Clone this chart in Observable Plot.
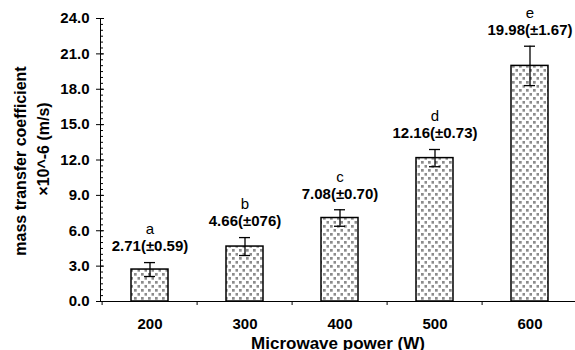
<!DOCTYPE html>
<html>
<head>
<meta charset="utf-8">
<script src="https://cdn.jsdelivr.net/npm/d3@7"></script>
<script src="https://cdn.jsdelivr.net/npm/@observablehq/plot@0.6"></script>
<style>
  body { margin: 0; background: #fff; }
  #chart svg { display: block; }
</style>
</head>
<body>
<div id="chart"></div>
<script>
// Microwave power levels (W) and measured mass transfer coefficients (×10^-6 m/s)
const powers = ["200", "300", "400", "500", "600"];
const means = [2.71, 4.66, 7.08, 12.16, 19.98];
const sds = [0.59, 0.76, 0.70, 0.73, 1.67];
const groups = ["a", "b", "c", "d", "e"];
const valueLabels = ["2.71(±0.59)", "4.66(±076)", "7.08(±0.70)", "12.16(±0.73)", "19.98(±1.67)"];
const yTicks = d3.range(0, 24.001, 3);
const yMinorTicks = d3.range(0, 24.001, 0.5);

const rows = powers.map((p, i) => ({
  power: p,
  mean: means[i],
  lo: means[i] - sds[i],
  hi: means[i] + sds[i],
  group: groups[i],
  label: valueLabels[i]
}));

// Dotted fill used by the bars
const dotPattern = () => {
  const defs = document.createElementNS("http://www.w3.org/2000/svg", "defs");
  defs.innerHTML =
    `<pattern id="dots" patternUnits="userSpaceOnUse" width="7" height="8">
       <rect width="7" height="8" fill="#fff"/>
       <rect x="1" y="1" width="2.7" height="2.7" fill="#8c8c8c"/>
       <rect x="4.5" y="5" width="2.7" height="2.7" fill="#8c8c8c"/>
     </pattern>`;
  return defs;
};

const bandStep = (579 - 100) / powers.length;
const font = "'Liberation Sans', Arial, sans-serif";

const chart = Plot.plot({
  width: 575,
  height: 350,
  marginLeft: 100,
  marginRight: 0,
  marginTop: 18,
  marginBottom: 49,
  style: { fontFamily: font, background: "#fff", color: "#000", overflow: "visible" },
  x: { domain: powers, range: [100, 579], padding: 0 },
  y: { domain: [0, 24] },
  marks: [
    dotPattern,
    Plot.barY(rows, {
      x: "power", y: "mean", fill: "url(#dots)", stroke: "#000", strokeWidth: 1.5,
      insetLeft: 29, insetRight: 29
    }),
    // error bars
    Plot.ruleX(rows, { x: "power", y1: "lo", y2: "hi", stroke: "#000", strokeWidth: 1.3 }),
    Plot.tickY(rows, { x: "power", y: "lo", stroke: "#000", strokeWidth: 1.3, insetLeft: 42, insetRight: 42 }),
    Plot.tickY(rows, { x: "power", y: "hi", stroke: "#000", strokeWidth: 1.3, insetLeft: 42, insetRight: 42 }),
    // value and significance-group labels
    Plot.text(rows, { x: "power", y: "hi", text: "label", dy: -16, fontSize: 15, fontWeight: "bold", fill: "#000" }),
    Plot.text(rows, { x: "power", y: "hi", text: "group", dy: -33, fontSize: 15, fill: "#000" }),
    // y axis: labels, major ticks across the line, minor ticks inside
    Plot.axisY({ ticks: yTicks, tickSize: 0, tickPadding: 11, tickFormat: d3.format(".1f"),
      fontSize: 15, fontWeight: "bold", label: null }),
    Plot.axisY({ ticks: yTicks, tickSize: 8, dx: 4, tickFormat: () => "", label: null }),
    Plot.axisY({ ticks: yMinorTicks, tickSize: 3, dx: 3, tickFormat: () => "", label: null }),
    // x axis: category labels and ticks between categories
    Plot.axisX({ tickSize: 0, tickPadding: 17, fontSize: 15, fontWeight: "bold", label: null }),
    Plot.ruleX(powers, { x: d => d, y1: () => 0, y2: () => 0, dx: -bandStep / 2, insetBottom: -4, stroke: "#000" }),
    Plot.ruleY([0], { stroke: "#000", strokeWidth: 1 }),
    Plot.frame({ anchor: "left", stroke: "#000" }),
    // axis titles
    Plot.text(["mass transfer coefficient"], { text: d => d, frameAnchor: "left", rotate: -90,
      textAnchor: "middle", lineAnchor: "middle",
      dx: -80, dy: 1, fontSize: 16, fontWeight: "bold", fill: "#000" }),
    Plot.text(["×10^-6 (m/s)"], { text: d => d, frameAnchor: "left", rotate: -90,
      textAnchor: "middle", lineAnchor: "middle",
      dx: -57, dy: -11, fontSize: 16, fontWeight: "bold", fill: "#000" }),
    Plot.text(["Microwave power (W)"], { text: d => d, frameAnchor: "bottom",
      textAnchor: "middle", lineAnchor: "middle",
      dy: 42, fontSize: 17, fontWeight: "bold", fill: "#000" })
  ]
});

document.getElementById("chart").appendChild(chart);
</script>
</body>
</html>
